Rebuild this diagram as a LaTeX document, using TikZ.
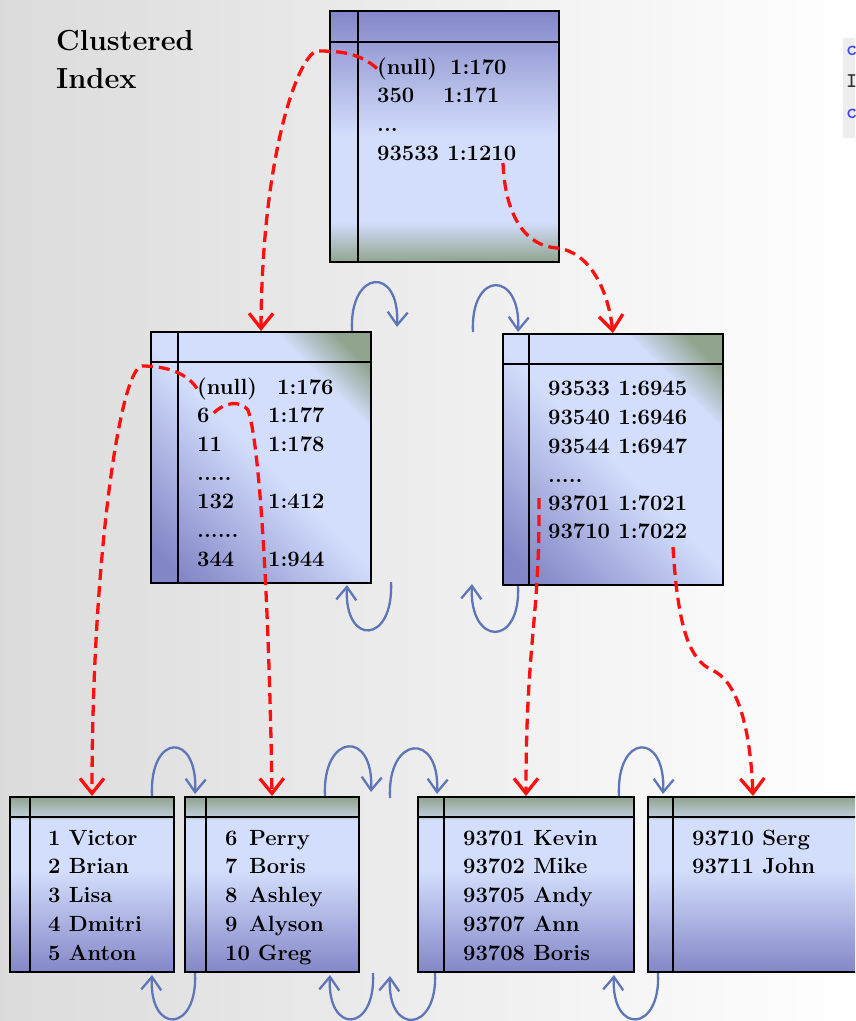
\documentclass[tikz,border=0pt]{standalone}
\usetikzlibrary{arrows.meta,calc}

\definecolor{pglav}{HTML}{8387C7}
\definecolor{pglight}{HTML}{D3DEFC}
\definecolor{pggreen}{HTML}{90A48E}
\definecolor{pghead}{HTML}{C3CFE0}
\definecolor{ptrred}{HTML}{FF1010}
\definecolor{linkblue}{HTML}{5E76B8}

\pgfdeclareverticalshading{rootshade}{100bp}{color(0bp)=(pggreen); color(25bp)=(pggreen); color(33bp)=(pglight); color(50bp)=(pglight); color(75bp)=(pglav); color(100bp)=(pglav)}
\pgfdeclareverticalshading{leafshade}{100bp}{color(0bp)=(pglav); color(25bp)=(pglav); color(54bp)=(pglight); color(68.4bp)=(pglight); color(69bp)=(pghead); color(75bp)=(pggreen); color(100bp)=(pggreen)}
\pgfdeclarehorizontalshading{midshade}{100bp}{color(0bp)=(pglav); color(20bp)=(pglav); color(50bp)=(pglight); color(71bp)=(pglight); color(80bp)=(pggreen); color(100bp)=(pggreen)}

% righe interne di una pagina
\newcommand{\pagelines}[3]{%
  \draw[sep] ([yshift=-#2]#1.north west) -- ([yshift=-#2]#1.north east);
  \draw[sep] ([xshift=#3]#1.north west) -- ([xshift=#3]#1.south west);}

\begin{document}
\begin{tikzpicture}[x=1pt,y=-1pt,
    page/.style={draw, line width=2pt, anchor=north west, inner sep=0pt, shade},
    sep/.style={line width=1.6pt},
    rec/.style={anchor=base west, inner sep=0pt, font=\fontsize{22}{26}\selectfont\bfseries},
    snip/.style={anchor=west, inner sep=0pt, font=\ttfamily\bfseries\fontsize{21}{21}\selectfont},
    ptr/.style={draw=ptrred, line width=3.3pt, dash pattern=on 11pt off 6pt, -{Straight Barb[length=15pt,width=24pt]}},
    link/.style={draw=linkblue, line width=2.3pt, -{Straight Barb[length=13pt,width=20pt]}}]
        % Sfondo
        \useasboundingbox (0,0) rectangle (855,1021);
        \clip (0,0) rectangle (855,1021);
        \shade[left color=black!14, middle color=black!2, right color=white] (0,0) rectangle (855,1021);

        % Titolo
        \node[rec, font=\fontsize{29}{35}\selectfont\bfseries] (title) at (56,50) {Clustered};
        \node[rec, font=\fontsize{29}{35}\selectfont\bfseries] (title2) at (56,88) {Index};

        % Ritaglio in alto a destra
        \fill[black!7] (843,38) rectangle (860,138);
        \node[snip, text=blue!75] (snipa) at (846,51) {c};
        \node[snip, text=black!80] (snipb) at (846,81) {I};
        \node[snip, text=blue!75] (snipc) at (846,114) {c};

        % Pagine
        \node[page, shading=rootshade, minimum width=229pt, minimum height=251pt] (root) at (329,10) {};
        \node[page, shading=midshade, shading angle=45, minimum width=220pt, minimum height=251pt] (midl) at (150,331) {};
        \node[page, shading=midshade, shading angle=45, minimum width=220pt, minimum height=251pt] (midr) at (502,333) {};
        \node[page, shading=leafshade, minimum width=164pt, minimum height=175pt] (leafa) at (9,796) {};
        \node[page, shading=leafshade, minimum width=174pt, minimum height=175pt] (leafb) at (184,796) {};
        \node[page, shading=leafshade, minimum width=216pt, minimum height=175pt] (leafc) at (417,796) {};
        \node[page, shading=leafshade, minimum width=210pt, minimum height=175pt] (leafd) at (647,796) {};
        \pagelines{root}{32pt}{29pt}
        \pagelines{midl}{31pt}{28pt}
        \pagelines{midr}{31pt}{27pt}
        \pagelines{leafa}{21pt}{21pt}
        \pagelines{leafb}{21pt}{22pt}
        \pagelines{leafc}{21pt}{27pt}
        \pagelines{leafd}{21pt}{26pt}

        % Radice
        \node[rec] (rk1) at (377,74) {(null)};
        \node[rec] (rv1) at (450,74) {1:170};
        \node[rec] (rk2) at (377,102.7) {350};
        \node[rec] (rv2) at (443,102.7) {1:171};
        \node[rec] (rk3) at (377,131.3) {...};
        \node[rec] (rk4) at (377,160) {93533 1:1210};

        % Livello intermedio
        \node[rec] (mk1) at (197,394) {(null)};
        \node[rec] (mv1) at (277,394) {1:176};
        \node[rec] (mk2) at (197,422) {6};
        \node[rec] (mv2) at (268,422) {1:177};
        \node[rec] (mk3) at (197,451) {11};
        \node[rec] (mv3) at (268,451) {1:178};
        \node[rec] (mk4) at (197,480) {.....};
        \node[rec] (mk5) at (197,508) {132};
        \node[rec] (mv5) at (268,508) {1:412};
        \node[rec] (mk6) at (197,537) {......};
        \node[rec] (mk7) at (197,566) {344};
        \node[rec] (mv7) at (268,566) {1:944};

        \node[rec] (nk1) at (548,395) {93533 1:6945};
        \node[rec] (nk2) at (548,424) {93540 1:6946};
        \node[rec] (nk3) at (548,453) {93544 1:6947};
        \node[rec] (nk4) at (548,482) {.....};
        \node[rec] (nk5) at (548,510) {93701 1:7021};
        \node[rec] (nk6) at (548,538) {93710 1:7022};

        % Foglie
        \node[rec] (la1) at (48,845) {1 Victor};
        \node[rec] (la2) at (48,873.7) {2 Brian};
        \node[rec] (la3) at (48,902.4) {3 Lisa};
        \node[rec] (la4) at (48,931) {4 Dmitri};
        \node[rec] (la5) at (48,960) {5 Anton};

        \node[rec] (lbn1) at (225,845) {6};
        \node[rec] (lb1) at (249,845) {Perry};
        \node[rec] (lbn2) at (225,873.7) {7};
        \node[rec] (lb2) at (249,873.7) {Boris};
        \node[rec] (lbn3) at (225,902.4) {8};
        \node[rec] (lb3) at (249,902.4) {Ashley};
        \node[rec] (lbn4) at (225,931) {9};
        \node[rec] (lb4) at (249,931) {Alyson};
        \node[rec] (lb5) at (225,960) {10 Greg};

        \node[rec] (lc1) at (463,845) {93701 Kevin};
        \node[rec] (lc2) at (463,873.7) {93702 Mike};
        \node[rec] (lc3) at (463,902.4) {93705 Andy};
        \node[rec] (lc4) at (463,931) {93707 Ann};
        \node[rec] (lc5) at (463,960) {93708 Boris};

        \node[rec] (ld1) at (692,845) {93710 Serg};
        \node[rec] (ld2) at (692,873.7) {93711 John};

        % Puntatori (rossi)
        \coordinate (p1210) at (503,163);
        \coordinate (p93701) at (539,498);
        \coordinate (p93710) at (673,547);
        \draw[ptr] (rk1.west) .. controls (360,53) and (340,51) .. (318,51) .. controls (300,51) and (262,150) .. (midl.north);
        \draw[ptr] (p1210) .. controls (505,215) and (525,246) .. (557,248) .. controls (590,252) and (608,290) .. (midr.north);
        \draw[ptr] (mk1.west) .. controls (185,370) and (160,366) .. (142,366) .. controls (120,368) and (92,560) .. (leafa.north);
        \draw[ptr] ([xshift=4pt,yshift=2pt]mk2.east) .. controls (225,402) and (240,400) .. (248,410) .. controls (262,450) and (270,650) .. (leafb.north);
        \draw[ptr] (p93701) .. controls (540,620) and (526,640) .. (leafc.north);
        \draw[ptr] (p93710) .. controls (678,630) and (690,660) .. (712,670) .. controls (735,680) and (750,720) .. (leafd.north);

        % Collegamenti tra pagine (blu)
        \coordinate (nextml) at (397,327);
        \coordinate (prevmr) at (473,332);
        \coordinate (prevml) at (391,582);
        \coordinate (nextmr) at (472,584);
        \coordinate (nextlb) at (371,792);
        \coordinate (prevlc) at (390,798);
        \coordinate (prevlb) at (373,973);
        \coordinate (nextlc) at (390,976);
        \draw[link] ([xshift=-20pt]midl.north east) .. controls +(-3,-62) and +(3,-62) .. (nextml);
        \draw[link] (prevmr) .. controls +(-3,-62) and +(3,-62) .. ([xshift=16pt,yshift=1pt]midr.north west);
        \draw[link] (prevml) .. controls +(3,62) and +(-3,62) .. ([xshift=-25pt,yshift=-1pt]midl.south east);
        \draw[link] ([xshift=16pt]midr.south west) .. controls +(3,62) and +(-3,62) .. (nextmr);
        \draw[link] ([xshift=-23pt]leafa.north east) .. controls +(-3,-63) and +(3,-63) .. ([xshift=11pt,yshift=2pt]leafb.north west);
        \draw[link] ([xshift=-35pt]leafb.north east) .. controls +(-3,-63) and +(3,-63) .. (nextlb);
        \draw[link] (prevlc) .. controls +(-3,-63) and +(3,-63) .. ([xshift=20pt,yshift=2pt]leafc.north west);
        \draw[link] ([xshift=-16pt]leafc.north east) .. controls +(-3,-63) and +(3,-63) .. ([xshift=16pt,yshift=2pt]leafd.north west);
        \draw[link] ([xshift=11pt]leafb.south west) .. controls +(3,60) and +(-3,60) .. ([xshift=-23pt,yshift=-2pt]leafa.south east);
        \draw[link] (prevlb) .. controls +(3,60) and +(-3,60) .. ([xshift=-30pt,yshift=-2pt]leafb.south east);
        \draw[link] ([xshift=18pt]leafc.south west) .. controls +(3,60) and +(-3,60) .. (nextlc);
        \draw[link] ([xshift=11pt]leafd.south west) .. controls +(3,60) and +(-3,60) .. ([xshift=-21pt,yshift=-2pt]leafc.south east);
\end{tikzpicture}
\end{document}
